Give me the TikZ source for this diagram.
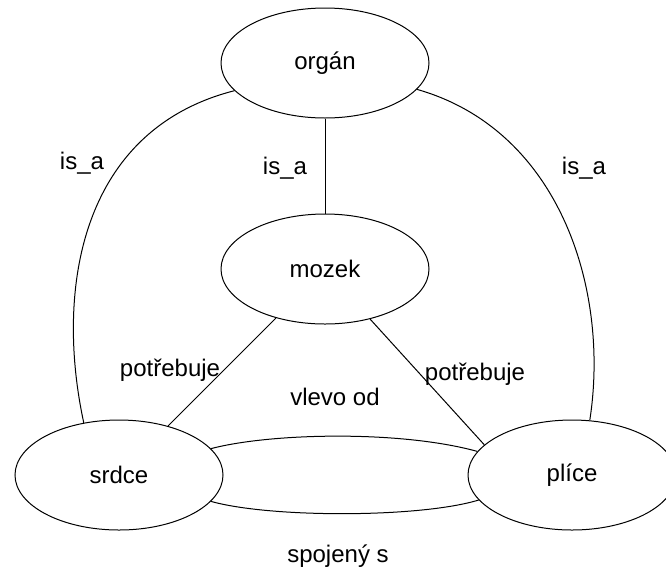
\documentclass[tikz,border=0pt]{standalone}
\usepackage{fontspec}
\setmainfont{Liberation Sans}
\usetikzlibrary{shapes.geometric}
\begin{document}
\begin{tikzpicture}[x=0.75pt,y=-0.75pt,
  every node/.style={font=\fontsize{18}{21.6}\selectfont},
  concept/.style={ellipse,draw,line width=0.75pt,minimum width=156pt,minimum height=82.5pt,inner sep=0pt},
  rel/.style={line width=0.75pt},
  lbl/.style={inner sep=0pt}]
\useasboundingbox (0,0) rectangle (666,572);
\node[concept] (o) at (325,63) {orgán};
\node[concept] (m) at (325,269) {mozek};
\node[concept] (s) at (119,475) {srdce};
\node[concept] (p) at (572,475) {plíce};

\draw[rel] (o) -- (m);
\draw[rel] (o.197.3) .. controls (80,130) and (55,290) .. (s.124.2);
\draw[rel] (o.344.1) .. controls (560,130) and (610,290) .. (p.72.8);
\draw[rel] (m) -- (s);
\draw[rel] (m.312.6) -- (p.161);
\draw[rel] (s.16.9) .. controls (270,433) and (400,430) .. (p.166.3);
\draw[rel] (s.344.8) .. controls (270,518) and (420,518) .. (p.195);

\node[lbl] (l1) at (82,163) {is\_a};
\node[lbl] (l2) at (285,168) {is\_a};
\node[lbl] (l3) at (584,168) {is\_a};
\node[lbl] (l4) at (170,370) {potřebuje};
\node[lbl] (l5) at (475,374) {potřebuje};
\node[lbl] (l6) at (335,397) {vlevo od};
\node[lbl] (l7) at (338,556) {spojený s};
\end{tikzpicture}
\end{document}
